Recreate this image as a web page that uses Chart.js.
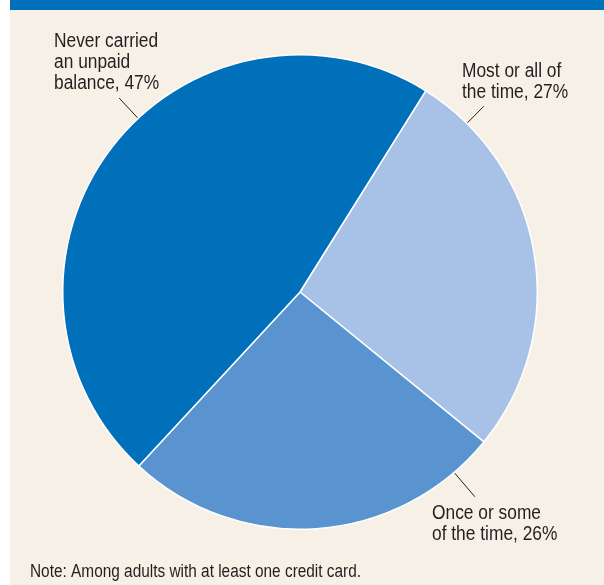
<!DOCTYPE html>
<html>
<head>
<meta charset="utf-8">
<script src="https://cdn.jsdelivr.net/npm/chart.js@4.4.1/dist/chart.umd.min.js"></script>
<style>
  html, body { margin: 0; padding: 0; background: #ffffff; }
  #frame { position: absolute; left: 10px; top: 0; width: 594px; height: 585px; background: #f7f0e7; }
  #topbar { position: absolute; left: 10px; top: 0; width: 594px; height: 10px; background: #0070bb; }
  #wrap { position: absolute; left: 0; top: 0; width: 604px; height: 585px; }
</style>
</head>
<body>
<div id="frame"></div>
<div id="topbar"></div>
<div id="wrap"><canvas id="pieChart"></canvas></div>
<script>
  // Datos del gráfico
  const categories = ["Most or all of the time", "Once or some of the time", "Never carried an unpaid balance"];
  const shares = [27, 26, 47];
  const sliceColors = ["#a8c1e6", "#5994d1", "#0070bb"];

  // Etiquetas: líneas de texto, posición del texto y ángulo de la guía
  const labelLines = [
    ["Most or all of", "the time, 27%"],
    ["Once or some", "of the time, 26%"],
    ["Never carried", "an unpaid", "balance, 47%"],
  ];
  const labelPos = [[462, 77], [432, 519], [54, 47]];
  const leaderAngles = [44.7, 139.5, -43];
  const leaderLength = [24, 32, 28];
  const noteText = "Note: Among adults with at least one credit card.";

  const FONT = '"Liberation Sans Narrow", "Arial Narrow", "Liberation Sans", sans-serif';

  // Texto condensado: escala horizontal sobre una fuente normal
  function condensedText(ctx, text, x, y, sx) {
    ctx.save();
    ctx.translate(x, y);
    ctx.scale(sx, 1);
    ctx.fillText(text, 0, 0);
    ctx.restore();
  }

  const labelPlugin = {
    id: "pieLabels",
    afterDraw(chart) {
      const ctx = chart.ctx;
      const arc = chart.getDatasetMeta(0).data[0];
      const cx = arc.x, cy = arc.y, r = arc.outerRadius;
      ctx.save();
      // Líneas guía
      ctx.strokeStyle = "#231f20";
      ctx.lineWidth = 1;
      leaderAngles.forEach((deg, i) => {
        const a = (deg - 90) * Math.PI / 180;
        ctx.beginPath();
        ctx.moveTo(cx + Math.cos(a) * (r + 1), cy + Math.sin(a) * (r + 1));
        ctx.lineTo(cx + Math.cos(a) * (r + leaderLength[i]), cy + Math.sin(a) * (r + leaderLength[i]));
        ctx.stroke();
      });
      // Texto
      ctx.fillStyle = "#231f20";
      ctx.textAlign = "left";
      ctx.textBaseline = "alphabetic";
      ctx.font = "19.5px " + FONT;
      labelLines.forEach((lines, i) => {
        lines.forEach((line, j) => {
          condensedText(ctx, line, labelPos[i][0], labelPos[i][1] + j * 21, 0.89);
        });
      });
      ctx.font = "18px " + FONT;
      condensedText(ctx, noteText, 30, 577, 0.855);
      ctx.restore();
    },
  };

  new Chart(document.getElementById("pieChart"), {
    type: "pie",
    data: {
      labels: categories,
      datasets: [
        {
          data: shares,
          backgroundColor: sliceColors,
          borderColor: "#ffffff",
          borderWidth: 1.5,
        },
      ],
    },
    options: {
      responsive: true,
      maintainAspectRatio: false,
      animation: false,
      rotation: 32,
      layout: { padding: { left: 62, right: 66, top: 53, bottom: 54 } },
      plugins: {
        legend: { display: false },
        tooltip: { enabled: false },
      },
    },
    plugins: [labelPlugin],
  });
</script>
</body>
</html>
